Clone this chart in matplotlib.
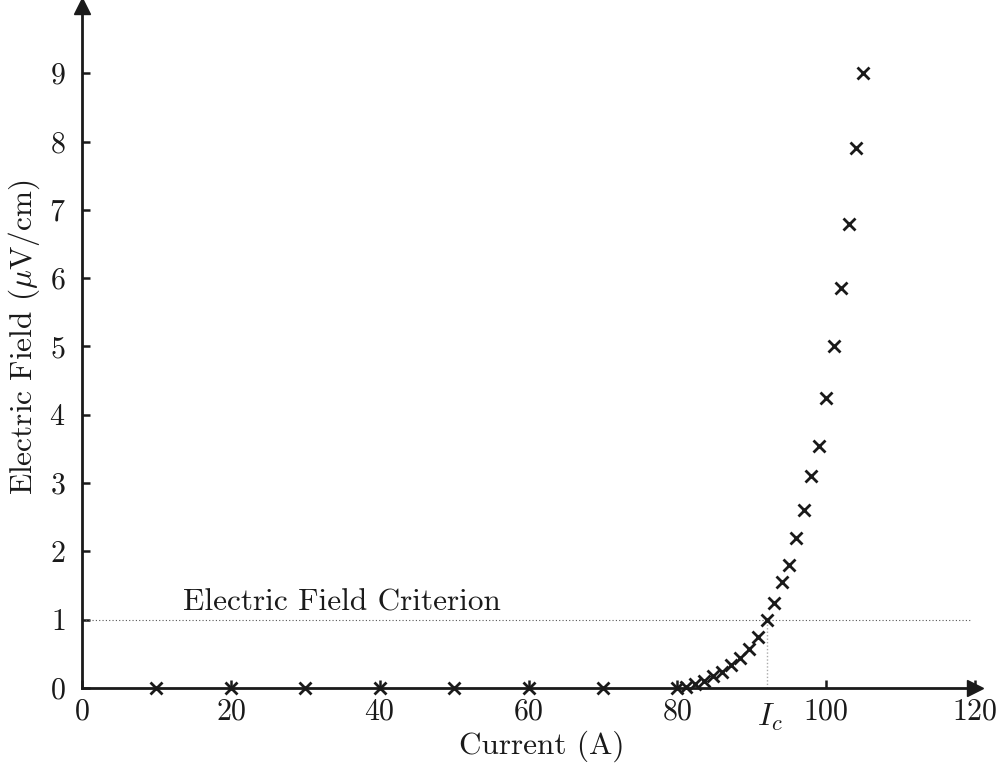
import numpy as np
import matplotlib
matplotlib.use("Agg")
import matplotlib.pyplot as plt

plt.rcParams['font.family'] = ['cmr10', 'DejaVu Serif']
plt.rcParams['mathtext.fontset'] = 'cm'
plt.rcParams['axes.formatter.use_mathtext'] = True

# measured points
low_current = [10, 20, 30, 40, 50, 60, 70]
low_field = [0, 0, 0, 0, 0, 0, 0]
current = [80, 81.2, 82.4, 83.6, 84.8, 86, 87.2, 88.4, 89.6, 90.8, 92,
           93, 94, 95, 96, 97, 98, 99, 100, 101, 102, 103, 104, 105]
field = [0, 0.02, 0.06, 0.11, 0.17, 0.24, 0.33, 0.44, 0.57, 0.74, 1.0,
         1.25, 1.55, 1.8, 2.2, 2.6, 3.1, 3.55, 4.25, 5.0, 5.85, 6.8, 7.9, 9.0]

criterion = 1.0
ic = 92

xticks = [0, 20, 40, 60, 80, 100, 120]
yticks = list(range(10))

ink = '#1a1a1a'

fig = plt.figure(figsize=(10.05, 7.66), dpi=100)
ax = fig.add_axes([0.0816, 0.1018, 0.8886, 0.890])
ax.set_xlim(0, 120)
ax.set_ylim(0, 9.98)

# criterion line and Ic marker
ax.plot([0, 119.5], [criterion, criterion], ls=(0, (1, 2)), color='#555555', lw=0.8)
ax.plot([ic, ic], [0, criterion], ls=(0, (1, 1.5)), color='#aaaaaa', lw=1.0)

ax.plot(low_current, low_field, 'x', color=ink, ms=8.5, mew=2, clip_on=False, zorder=5)
ax.plot(current, field, 'x', color=ink, ms=8.5, mew=2, clip_on=False, zorder=5)

ax.text(13.6, 1.14, 'Electric Field Criterion', fontsize=22.5, color=ink)

for s in ['top', 'right']:
    ax.spines[s].set_visible(False)
for s in ['left', 'bottom']:
    ax.spines[s].set_linewidth(2.0)
    ax.spines[s].set_color(ink)

# arrow heads on the axes
ax.plot(1, 0, '>', color=ink, ms=12, transform=ax.transAxes, clip_on=False)
ax.plot(0, 1, '^', color=ink, ms=12, transform=ax.transAxes, clip_on=False)

ax.set_xticks(xticks)
ax.set_yticks(yticks)
ax.tick_params(direction='in', length=6, width=1.8, color=ink, labelsize=21.5,
               labelcolor=ink)
ax.tick_params(axis='x', pad=7)
ax.tick_params(axis='y', pad=12)
ax.text(ic + 0.4, -0.2, '$I_c$', fontsize=23, color=ink, ha='center', va='top')

ax.set_xlabel('Current (A)', fontsize=22.5, color=ink, labelpad=4)
ax.set_ylabel(r'Electric Field ($\mu$V/cm)', fontsize=22.5, color=ink, labelpad=5)
ax.xaxis.label.set_x(0.515)
ax.yaxis.label.set_y(0.515)

fig.savefig('out.png', dpi=100)
